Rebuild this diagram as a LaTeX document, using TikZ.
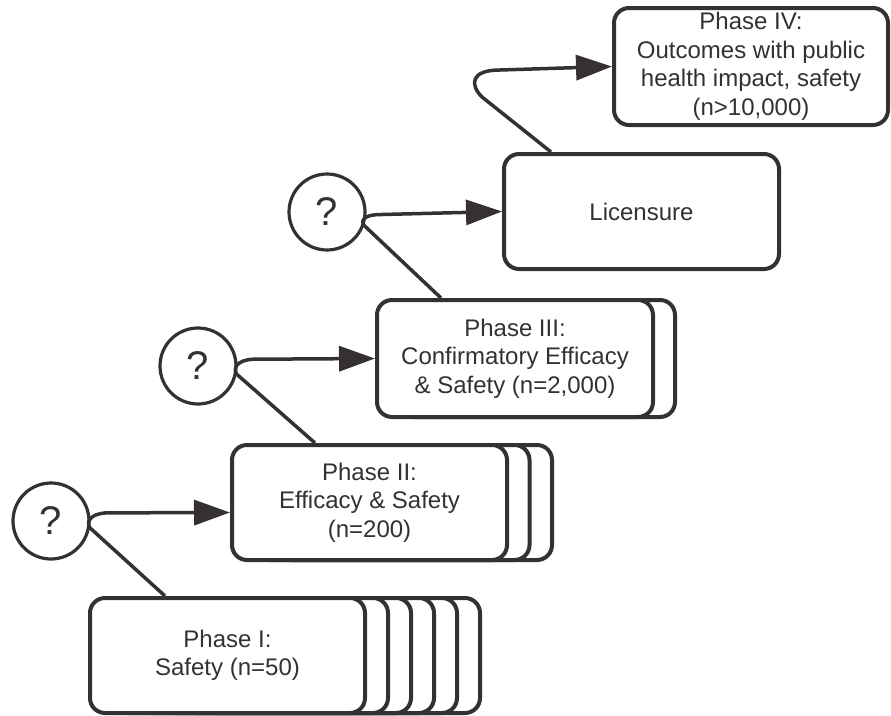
\documentclass[tikz,border=0pt]{standalone}
\usepackage{fontspec}
\setmainfont{Liberation Sans}
\usetikzlibrary{arrows.meta,calc}
\definecolor{ink}{RGB}{52,49,48}
\begin{document}
\begin{tikzpicture}[x=1pt,y=-1pt,
  box/.style={draw=ink, fill=white, line width=4pt, rounded corners=15pt,
    minimum width=275pt, minimum height=115pt, inner sep=0pt, align=center,
    font=\fontsize{24}{28.5}\selectfont, text=ink},
  qnode/.style={circle, draw=ink, fill=white, line width=3.2pt, minimum size=76pt,
    inner sep=0pt, font=\fontsize{40}{40}\selectfont, text=ink},
  link/.style={draw=ink, line width=3.5pt, line join=round,
    -{Triangle[length=36pt,width=25pt]}}]
\useasboundingbox (0,0) rectangle (891,715);

% Phase I stack
\foreach \k in {5,4,...,1}{
  \node[box] (p1g\k) at (227.5+23*\k,655.5) {};
}
\node[box] (p1) at (227.5,655.5) {Phase I:\\Safety (n=50)};

% Phase II stack
\foreach \k in {2,1}{
  \node[box] (p2g\k) at (369.5+22.5*\k,502.5) {};
}
\node[box] (p2) at (369.5,502.5) {Phase II:\\Efficacy \& Safety\\(n=200)};

% Phase III stack
\node[box, minimum width=276pt, minimum height=117pt] (p3g1) at (537,358.5) {};
\node[box, minimum width=276pt, minimum height=117pt] (p3) at (515,358.5)
  {Phase III:\\Confirmatory Efficacy\\\& Safety (n=2,000)};

% Licensure
\node[box] (lic) at (641.5,211.5) {Licensure};

% Phase IV
\node[box, minimum width=274pt, minimum height=117pt] (p4) at (751,66.5)
  {Phase IV:\\Outcomes with public\\health impact, safety\\(n>10,000)};

% decision circles
\node[qnode] (c1) at (51,521) {?};
\node[qnode] (c2) at (198,366) {?};
\node[qnode] (c3) at (327,212) {?};

% connectors
\draw[link] ($(p1.north west)+(77,0)$) -- (c1.-10)
  .. controls ($(c1.-10)+(-4,-6)$) and ($(c1.-10)+(0,-14)$) .. ($(c1.-10)+(16,-15)$)
  -- ($(p2.west)+(0,10)$);
\draw[link] ($(p2.north west)+(85,0)$) -- (c2.-12)
  .. controls ($(c2.-12)+(-4,-6)$) and ($(c2.-12)+(0,-14)$) .. ($(c2.-12)+(16,-15)$)
  -- (p3.west);
\draw[link] ($(p3.north west)+(66,0)$) -- (c3.-20)
  .. controls ($(c3.-20)+(-4,-5)$) and ($(c3.-20)+(0,-11)$) .. ($(c3.-20)+(16,-11)$)
  -- (lic.west);
\coordinate (bend) at (482,97);
\draw[link] ($(lic.north west)+(49,0)$) -- (bend)
  .. controls ($(bend)+(-12,-12)$) and ($(bend)+(-12,-27)$) .. ($(bend)+(18,-27)$)
  -- (p4.west);
\end{tikzpicture}
\end{document}
